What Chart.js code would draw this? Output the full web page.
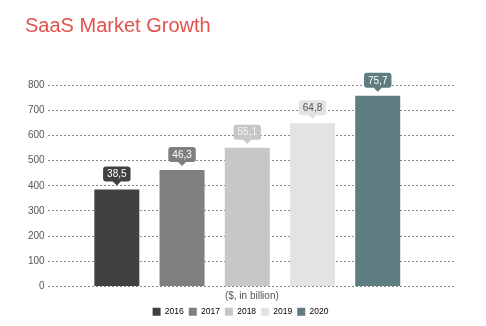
<!DOCTYPE html>
<html>
<head>
<meta charset="utf-8">
<script src="https://cdn.jsdelivr.net/npm/chart.js@4/dist/chart.umd.min.js"></script>
<style>
  html, body { margin: 0; padding: 0; background: #ffffff; }
  #wrap { width: 486px; height: 326px; }
</style>
</head>
<body>
<div id="wrap"><canvas id="c" width="486" height="326"></canvas></div>
<script>
// Market size per year, $ billion
const years = ['2016', '2017', '2018', '2019', '2020'];
const revenue = [38.5, 46.3, 55.1, 64.8, 75.7];
// Axis labels for the value scale
const yTickLabels = ['0', '100', '200', '300', '400', '500', '600', '700', '800'];
const barColors = ['#414141', '#7f7f7f', '#c7c7c7', '#e3e3e3', '#5d7d80'];
const calloutText = ['#ffffff', '#ffffff', '#f4f4f4', '#555555', '#ffffff'];

const fmt = v => v.toFixed(1).replace('.', ',');

// Rounded callout with a small pointer above each bar
const callouts = {
  id: 'callouts',
  afterDatasetsDraw(chart) {
    const ctx = chart.ctx;
    const meta = chart.getDatasetMeta(0);
    ctx.save();
    ctx.font = '10px "Liberation Sans", Arial, sans-serif';
    ctx.textAlign = 'center';
    ctx.textBaseline = 'middle';
    meta.data.forEach((bar, i) => {
      const cx = bar.x;
      const tip = bar.y - 4;
      const h = 15, w = ctx.measureText(fmt(revenue[i])).width + 8;
      const bottom = tip - 4;
      const top = bottom - h;
      const left = cx - w / 2;
      const r = 3;
      ctx.fillStyle = barColors[i];
      ctx.beginPath();
      ctx.moveTo(left + r, top);
      ctx.lineTo(left + w - r, top);
      ctx.quadraticCurveTo(left + w, top, left + w, top + r);
      ctx.lineTo(left + w, bottom - r);
      ctx.quadraticCurveTo(left + w, bottom, left + w - r, bottom);
      ctx.lineTo(cx + 4, bottom);
      ctx.lineTo(cx, tip);
      ctx.lineTo(cx - 4, bottom);
      ctx.lineTo(left + r, bottom);
      ctx.quadraticCurveTo(left, bottom, left, bottom - r);
      ctx.lineTo(left, top + r);
      ctx.quadraticCurveTo(left, top, left + r, top);
      ctx.closePath();
      ctx.fill();
      ctx.fillStyle = calloutText[i];
      ctx.fillText(fmt(revenue[i]), cx, (top + bottom) / 2 + 0.5);
    });
    ctx.restore();
  }
};

new Chart(document.getElementById('c'), {
  type: 'bar',
  data: {
    labels: years,
    datasets: [{
      label: 'SaaS',
      data: revenue.map((v, i) => ({ x: i + 1, y: v })),
      backgroundColor: barColors,
      borderWidth: 0,
      categoryPercentage: 1,
      barPercentage: 0.69
    }]
  },
  options: {
    responsive: false,
    animation: false,
    devicePixelRatio: 1,
    layout: { padding: { left: 25, right: 30, top: 0, bottom: 0 } },
    plugins: {
      title: {
        display: true,
        text: 'SaaS Market Growth',
        align: 'start',
        color: '#e2524c',
        font: { family: '"Liberation Sans", Arial, sans-serif', size: 20, weight: 'normal' },
        padding: { top: 14, bottom: 47 }
      },
      legend: {
        position: 'bottom',
        labels: {
          boxWidth: 8,
          boxHeight: 8,
          padding: 5,
          color: '#555555',
          font: { family: '"Liberation Sans", Arial, sans-serif', size: 8.5 },
          generateLabels: () => years.map((y, i) => ({
            text: y,
            fillStyle: barColors[i],
            strokeStyle: barColors[i],
            lineWidth: 0,
            datasetIndex: 0,
            index: i
          }))
        }
      },
      tooltip: { enabled: false }
    },
    scales: {
      x: {
        type: 'linear',
        offset: false,
        min: -0.06,
        max: 6.2,
        grid: { display: false },
        border: { display: false },
        ticks: { display: false },
        title: {
          display: true,
          text: '($, in billion)',
          color: '#555555',
          font: { family: '"Liberation Sans", Arial, sans-serif', size: 10 },
          padding: { top: -4, bottom: 0 }
        }
      },
      y: {
        min: 0,
        max: 80,
        ticks: {
          stepSize: 10,
          padding: 3,
          color: '#555555',
          font: { family: '"Liberation Sans", Arial, sans-serif', size: 10 },
          callback: (v, i) => yTickLabels[i]
        },
        grid: { color: '#8a8a8a', drawTicks: false, lineWidth: 1 },
        border: { display: false, dash: [2, 2] }
      }
    }
  },
  plugins: [callouts]
});
</script>
</body>
</html>
